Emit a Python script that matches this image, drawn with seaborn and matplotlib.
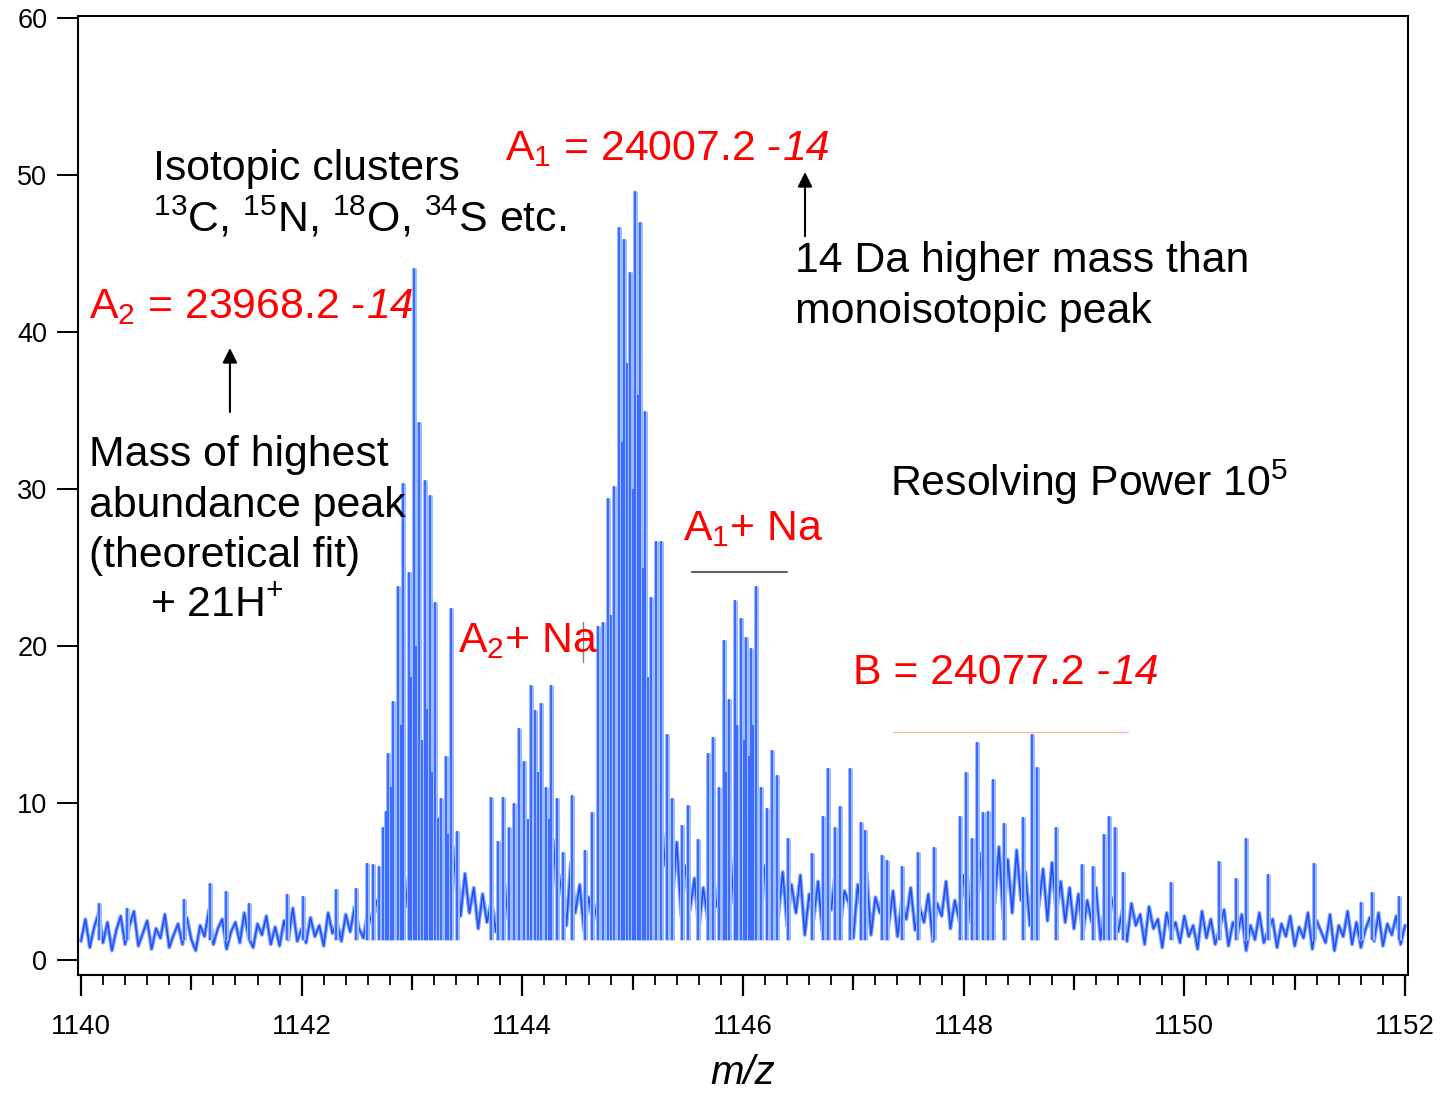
import numpy as np
import matplotlib
matplotlib.use("Agg")
import matplotlib.pyplot as plt
from matplotlib.ticker import MultipleLocator, FuncFormatter
import seaborn as sns

# baseline noise, one value every 0.04 m/z from 1140 to 1152
noise = [
    1.2, 2.6, 0.8, 2.1, 3.0, 1.1, 2.4, 0.6, 1.9, 2.8, 1.0, 2.2, 3.1, 0.9, 1.7, 2.5, 0.7, 2.0, 1.4, 2.9, 0.8, 1.6, 2.3, 1.0, 2.7,
    1.3, 0.6, 2.2, 1.5, 3.2, 1.0, 2.0, 2.6, 0.7, 1.8, 2.4, 1.1, 3.0, 1.4, 0.8, 2.3, 1.6, 2.8, 1.0, 2.1, 0.9, 2.5, 1.3, 3.3, 1.2,
    2.0, 1.1, 2.7, 1.5, 2.2, 0.9, 3.0, 1.7, 2.4, 1.2, 2.9, 1.8, 3.4, 2.0, 1.4, 3.1, 2.3, 3.8, 2.1, 4.4, 2.8, 5.2, 3.0, 6.0, 3.4,
    7.5, 4.2, 8.8, 3.6, 7.0, 4.8, 9.0, 3.2, 6.5, 4.0, 7.2, 2.8, 5.5, 3.0, 4.6, 2.0, 4.2, 2.4, 3.8, 1.8, 4.8, 2.6, 5.2, 2.2, 5.6,
    3.0, 6.4, 2.8, 7.0, 3.4, 6.0, 2.5, 7.6, 3.8, 5.4, 2.2, 6.2, 3.0, 4.8, 1.8, 4.0, 2.4, 3.6, 4.4, 6.8, 3.6, 8.5, 4.5, 10.0, 5.0,
    9.5, 4.8, 11.0, 5.5, 8.8, 4.2, 10.5, 6.0, 9.0, 3.8, 7.5, 2.8, 6.0, 3.2, 5.2, 2.0, 4.6, 2.6, 5.0, 3.4, 6.2, 2.8, 7.0, 3.6, 6.6,
    3.0, 7.4, 4.0, 6.8, 2.6, 6.0, 3.4, 7.2, 2.8, 5.6, 2.2, 4.8, 3.0, 5.4, 1.6, 4.2, 2.6, 5.0, 1.8, 4.6, 3.2, 5.8, 2.0, 4.4, 3.6,
    1.4, 4.8, 2.8, 5.6, 1.6, 4.0, 3.0, 5.0, 2.2, 4.4, 1.5, 3.8, 2.6, 4.6, 1.9, 3.4, 2.4, 4.2, 1.2, 3.6, 2.8, 5.0, 2.0, 3.8, 2.5,
    5.4, 2.4, 6.0, 3.2, 6.8, 2.8, 5.8, 3.6, 7.2, 2.6, 6.4, 3.0, 7.0, 3.8, 5.6, 2.2, 6.6, 3.4, 5.8, 2.5, 6.2, 3.0, 5.0, 2.4, 4.6,
    2.0, 4.2, 1.6, 3.8, 2.4, 4.6, 1.3, 3.4, 2.8, 4.0, 1.8, 3.2, 1.2, 3.6, 2.2, 2.9, 1.0, 3.4, 2.0, 2.6, 0.8, 3.0, 1.7, 2.4, 1.1,
    2.8, 1.5, 2.2, 0.7, 3.1, 1.4, 2.6, 1.0, 2.0, 3.2, 0.9, 2.4, 1.6, 2.9, 0.6, 2.2, 1.3, 3.0, 1.1, 1.9, 2.6, 0.8, 2.3, 1.5, 2.8,
    0.9, 2.1, 1.4, 3.0, 0.7, 2.5, 1.8, 1.1, 2.9, 0.6, 2.2, 1.5, 3.1, 1.0, 2.4, 0.8, 1.9, 2.7, 1.2, 3.0, 0.9, 2.3, 1.6, 2.8, 1.0,
    2.2,
]
noise_mz = 1140 + 0.04 * np.arange(len(noise))

# isotopic peaks (m/z, relative abundance)
a2_mz = [1142.700, 1142.737, 1142.760, 1142.783, 1142.810, 1142.828, 1142.873, 1142.900, 1142.918,
         1142.973, 1142.995, 1143.018, 1143.040, 1143.064, 1143.090, 1143.118, 1143.140, 1143.163,
         1143.185, 1143.209, 1143.235, 1143.263, 1143.308, 1143.330, 1143.354, 1143.408]
a2_h = [6.0, 8.5, 9.5, 13.2, 11.0, 16.5, 23.8, 15.0, 30.4, 24.7, 18.0, 44.1, 20.0, 34.3, 14.0, 30.6,
        16.0, 29.6, 12.0, 22.8, 9.0, 10.3, 13.0, 8.0, 22.4, 8.2]

a2na_mz = [1143.716, 1143.780, 1143.825, 1143.879, 1143.925, 1143.970, 1144.015, 1144.050, 1144.079,
           1144.115, 1144.140, 1144.169, 1144.215, 1144.240, 1144.260, 1144.314, 1144.369, 1144.450]
a2na_h = [10.4, 7.6, 10.4, 8.5, 10.0, 14.8, 12.7, 9.0, 17.5, 15.9, 12.0, 16.4, 11.0, 9.0, 17.5, 10.3, 6.9, 10.5]

a1_mz = [1144.568, 1144.632, 1144.686, 1144.731, 1144.777, 1144.800, 1144.831, 1144.876, 1144.900,
         1144.922, 1144.950, 1144.976, 1145.000, 1145.021, 1145.045, 1145.067, 1145.090, 1145.112,
         1145.140, 1145.166, 1145.212, 1145.257, 1145.311, 1145.357, 1145.447, 1145.497, 1145.592]
a1_h = [7.0, 9.4, 21.3, 21.5, 29.4, 22.0, 30.2, 46.7, 33.0, 45.9, 38.0, 43.8, 30.0, 49.0, 36.0, 47.0,
        25.0, 35.0, 18.0, 23.1, 26.7, 26.7, 14.4, 10.3, 8.6, 9.9, 7.7]

a1na_mz = [1145.683, 1145.728, 1145.783, 1145.828, 1145.850, 1145.873, 1145.928, 1145.950, 1145.982,
           1146.005, 1146.027, 1146.050, 1146.073, 1146.095, 1146.118, 1146.163, 1146.218, 1146.263,
           1146.308, 1146.405]
a1na_h = [13.2, 14.2, 11.0, 20.4, 12.0, 16.6, 22.9, 15.0, 21.8, 14.0, 20.6, 13.0, 19.9, 15.0, 23.8,
          11.0, 9.7, 13.4, 11.8, 7.8]

right_mz = [1146.626, 1146.725, 1146.771, 1146.830, 1146.879, 1146.966, 1147.070, 1147.106, 1147.260,
            1147.305, 1147.441, 1147.586, 1147.731, 1147.967, 1148.021, 1148.076, 1148.121, 1148.171,
            1148.221, 1148.266, 1148.366, 1148.538, 1148.620, 1148.665, 1148.837, 1149.073, 1149.172,
            1149.272, 1149.317, 1149.372, 1149.444, 1149.879, 1150.314, 1150.469, 1150.559, 1150.759,
            1151.175, 1151.601, 1151.701, 1151.946]
right_h = [6.8, 9.2, 12.2, 8.5, 9.8, 12.2, 8.8, 8.3, 6.7, 6.4, 6.0, 6.9, 7.2, 9.2, 12.0, 7.8, 13.9,
           9.4, 9.5, 11.5, 8.7, 9.1, 14.4, 12.3, 8.5, 6.1, 6.0, 8.0, 9.2, 8.5, 5.6, 5.0, 6.3, 5.2,
           7.8, 5.5, 6.2, 3.7, 4.3, 4.1]

left_mz = [1140.160, 1140.417, 1140.934, 1141.166, 1141.314, 1141.523, 1141.867, 1142.012, 1142.311,
           1142.493, 1142.592, 1142.647]
left_h = [3.6, 3.3, 3.9, 4.9, 4.4, 3.6, 4.2, 4.1, 4.5, 4.6, 6.2, 6.1]

peak_mz = a2_mz + a2na_mz + a1_mz + a1na_mz + right_mz + left_mz
peak_h = a2_h + a2na_h + a1_h + a1na_h + right_h + left_h

sns.set_style("ticks")
plt.rcParams["font.family"] = ["Liberation Sans", "DejaVu Sans"]
plt.rcParams["text.color"] = "black"
plt.rcParams["axes.labelcolor"] = "black"
plt.rcParams["mathtext.fontset"] = "custom"
plt.rcParams["mathtext.rm"] = "Liberation Sans"
plt.rcParams["mathtext.it"] = "Liberation Sans:italic"
plt.rcParams["mathtext.bf"] = "Liberation Sans:bold"
plt.rcParams["mathtext.default"] = "regular"

fig = plt.figure(figsize=(14.4, 10.94), dpi=100)
ax = fig.add_axes([78 / 1440, 1 - 975 / 1094, 1330 / 1440, 959 / 1094])

# spectrum
sns.lineplot(x=noise_mz, y=noise, ax=ax, color="#7ea4ff", lw=2.8, estimator=None, sort=False)
sns.lineplot(x=noise_mz, y=noise, ax=ax, color="#1f4ef5", lw=1.1, estimator=None, sort=False)
ax.vlines(peak_mz, 1.3, peak_h, colors="#9dbcff", lw=3.6)
ax.vlines(peak_mz, 1.3, peak_h, colors="#2b5cff", lw=1.2)

ax.set_xlim(1139.973, 1152.027)
ax.set_ylim(-0.955, 60.13)

for s in ax.spines.values():
    s.set_linewidth(1.5)
    s.set_color("black")

ax.yaxis.set_major_locator(MultipleLocator(10))
ax.tick_params(axis="y", which="major", direction="out", length=15, width=1.4,
               pad=7, labelsize=19.5, colors="black")

ax.xaxis.set_major_locator(MultipleLocator(1))
ax.xaxis.set_minor_locator(MultipleLocator(0.2))
ax.xaxis.set_major_formatter(FuncFormatter(lambda v, p: f"{v:.0f}" if round(v) % 2 == 0 else ""))
ax.tick_params(axis="x", which="major", direction="out", length=15, width=1.6,
               pad=13, labelsize=20, colors="black")
ax.tick_params(axis="x", which="minor", direction="out", length=7, width=1.3, colors="black")
for tick, loc in zip(ax.xaxis.get_major_ticks(), ax.xaxis.get_majorticklocs()):
    if round(loc) % 2 == 1:
        tick.tick1line.set_markersize(11)

ax.set_xlabel("m/z", fontsize=29, style="italic", labelpad=10)
ax.set_ylabel("")

# annotations
red = "#ff0000"
fs = 30.8


def label(x, y, s, color="black", italic_tail=None):
    t = ax.text(x, y, s, fontsize=fs, color=color, va="baseline", ha="left")
    if italic_tail:
        ax.annotate(italic_tail, xy=(1, y), xycoords=(t, "data"), xytext=(1, 0),
                    textcoords="offset points", fontsize=fs, color=color,
                    style="italic", va="baseline", ha="left")
    return t


label(1140.653, 49.68, "Isotopic clusters")
label(1140.653, 46.43, r"$^{13}$C, $^{15}$N, $^{18}$O, $^{34}$S etc.")
label(1140.073, 40.89, r"A$_2$ = 23968.2 -", red, "14")
label(1140.073, 31.46, "Mass of highest")
label(1140.073, 28.22, "abundance peak")
label(1140.073, 25.03, "(theoretical fit)")
label(1140.625, 21.85, r"+ 21H$^{+}$")
label(1143.843, 50.96, r"A$_1$ = 24007.2 -", red, "14")
label(1146.471, 43.82, "14 Da higher mass than")
label(1146.471, 40.57, "monoisotopic peak")
label(1147.333, 29.55, r"Resolving Power 10$^{5}$")
label(1145.456, 26.75, r"A$_1$+ Na", red)
label(1143.417, 19.62, r"A$_2$+ Na", red)
label(1146.997, 17.58, "B = 24077.2 -", red, "14")

arrow = dict(arrowstyle="-|>", color="black", lw=1.5, mutation_scale=22, shrinkA=0, shrinkB=0)
ax.annotate("", xy=(1141.350, 38.98), xytext=(1141.350, 34.90), arrowprops=arrow)
ax.annotate("", xy=(1146.562, 50.19), xytext=(1146.562, 46.11), arrowprops=arrow)

ax.plot([1145.538, 1146.399], [24.71, 24.71], color="#606060", lw=1.5)
ax.plot([1144.550, 1144.550], [18.98, 21.53], color="#808080", lw=1.0)
ax.plot([1147.360, 1149.490], [14.52, 14.52], color="#ffb8a8", lw=1.0)

fig.savefig("out.png", dpi=100)
